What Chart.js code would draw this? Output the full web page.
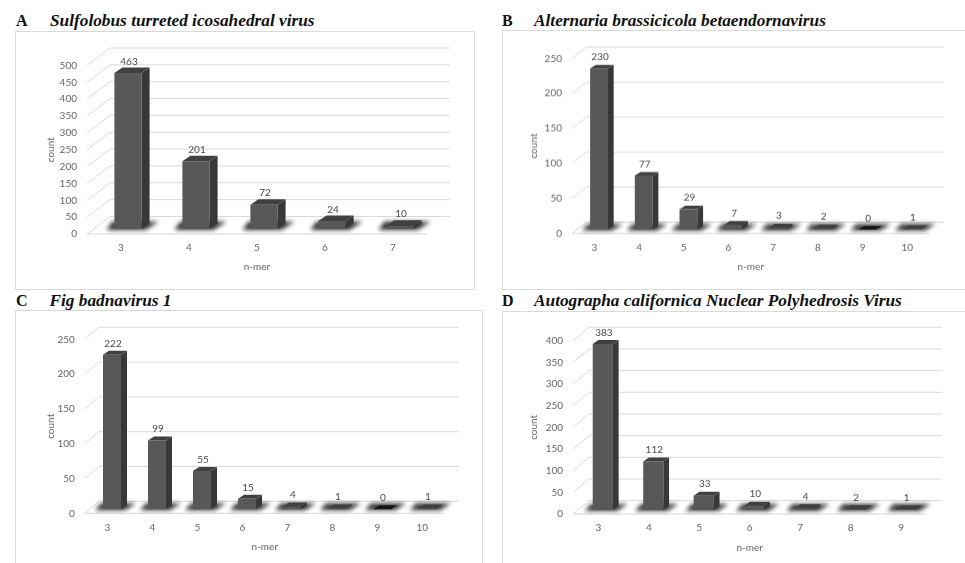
<!DOCTYPE html>
<html>
<head>
<meta charset="utf-8">
<script src="https://cdn.jsdelivr.net/npm/chart.js@4.4.1/dist/chart.umd.min.js"></script>
<style>
  html, body { margin: 0; padding: 0; background: #fff; }
  body { width: 965px; height: 563px; position: relative; overflow: hidden; }
  .box { position: absolute; border: 1px solid #d9d9d9; box-sizing: border-box; }
  canvas { position: absolute; }
  .ttl { position: absolute; font-family: "Liberation Serif", serif; font-size: 17.3px; line-height: 20px; white-space: nowrap; color: #111; }
  .ttl .tag { font-weight: bold; font-style: normal; font-size: 16px; }
  .ttl .name { position: absolute; top: 0; font-weight: bold; font-style: italic; }
</style>
</head>
<body>
<script>
// n-mer length categories and repeat counts for each genome
const nmerA = ['3', '4', '5', '6', '7'];
const countA = [463, 201, 72, 24, 10];

const nmerB = ['3', '4', '5', '6', '7', '8', '9', '10'];
const countB = [230, 77, 29, 7, 3, 2, 0, 1];

const nmerC = ['3', '4', '5', '6', '7', '8', '9', '10'];
const countC = [222, 99, 55, 15, 4, 1, 0, 1];

const nmerD = ['3', '4', '5', '6', '7', '8', '9'];
const countD = [383, 112, 33, 10, 4, 2, 1];

// y axis ranges (ticks every 50)
const yMaxA = 500, yMaxB = 250, yMaxC = 250, yMaxD = 400;
const yStep = 50;

const tags = ['A', 'B', 'C', 'D'];
const names = [
  'Sulfolobus turreted icosahedral virus',
  'Alternaria brassicicola betaendornavirus',
  'Fig badnavirus 1',
  'Autographa californica Nuclear Polyhedrosis Virus'
];

// Page layout: box, plot area (front plane), 3D depth offsets, label anchors
const layout = [
  { box: [15, 31, 460, 259], canvas: [15, 31, 460, 259], area: [87, 65.5, 427, 234],
    depth: [23, -17.5], shift: [7, -5], barDepth: [8, -5.5], countX: 50.7, nmerY: 267,
    tag: [16, 27.3], name: 50 },
  { box: [502, 30, 480, 260], canvas: [502, 30, 463, 259.5], area: [572, 58.3, 929.6, 233.3],
    depth: [14.5, -11.3], shift: [4.7, -4], barDepth: [5.7, -3.6], countX: 534, nmerY: 266.7,
    tag: [502, 27.3], name: 534 },
  { box: [15, 310, 468, 270], canvas: [15, 310, 468, 253], area: [84.8, 339.3, 444.8, 513.3],
    depth: [14, -12], shift: [4.7, -4], barDepth: [6, -4], countX: 50.7, nmerY: 546.7,
    tag: [16, 307], name: 49.5 },
  { box: [502, 311, 480, 270], canvas: [502, 311, 463, 252], area: [573.1, 340.7, 926.3, 514],
    depth: [16, -13.4], shift: [4.5, -4], barDepth: [5.7, -4], countX: 534, nmerY: 547.3,
    tag: [502, 307.3], name: 534 }
];

const panels = [
  { labels: nmerA, values: countA, yMax: yMaxA },
  { labels: nmerB, values: countB, yMax: yMaxB },
  { labels: nmerC, values: countC, yMax: yMaxC },
  { labels: nmerD, values: countD, yMax: yMaxD }
];

const AXIS_W = 50, AXIS_H = 45;
const axisFont = { family: 'Lato', size: 10 };
const titleFont = { family: 'Lato', size: 10 };
const axisColor = '#666666';

// Draws back wall, side wall, floor edge, bar shadows and the extruded bar faces
const bars3d = {
  id: 'bars3d',
  beforeDatasetsDraw(chart, args, opts) {
    const { ctx, chartArea: a, scales: { y } } = chart;
    const [dx, dy] = opts.depth;
    const y0 = y.getPixelForValue(0);
    ctx.save();
    ctx.strokeStyle = '#d9d9d9';
    ctx.lineWidth = 1;
    y.ticks.forEach(t => {
      const py = y.getPixelForValue(t.value);
      ctx.beginPath();
      ctx.moveTo(a.left, py);
      ctx.lineTo(a.left + dx, py + dy);
      ctx.lineTo(a.right + dx, py + dy);
      ctx.stroke();
    });
    ctx.beginPath();
    ctx.moveTo(a.left, y0);
    ctx.lineTo(a.right, y0);
    ctx.stroke();
    ctx.restore();

    const meta = chart.getDatasetMeta(0);
    const [sx, sy] = opts.shift;
    const [bx, by] = opts.barDepth;
    ctx.save();
    ctx.translate(sx, sy);
    ctx.filter = 'blur(2px)';
    ctx.fillStyle = 'rgba(20,20,20,0.85)';
    meta.data.forEach(bar => {
      const { x, width, base } = bar.getProps(['x', 'width', 'base'], true);
      const l = x - width / 2, r = x + width / 2;
      ctx.beginPath();
      ctx.moveTo(l - 8, base + 1);
      ctx.lineTo(r + 4, base + 1);
      ctx.lineTo(r + bx + 9, base + by - 2);
      ctx.lineTo(l - 2, base + by - 2);
      ctx.closePath();
      ctx.fill();
    });
    ctx.restore();

    ctx.save();
    ctx.translate(sx, sy);
  },
  afterDatasetsDraw(chart, args, opts) {
    const { ctx } = chart;
    const [bx, by] = opts.barDepth;
    const meta = chart.getDatasetMeta(0);
    const values = chart.data.datasets[0].data;
    meta.data.forEach((bar, i) => {
      const { x, y, width, base } = bar.getProps(['x', 'y', 'width', 'base'], true);
      const l = x - width / 2, r = x + width / 2;
      ctx.fillStyle = '#383838';
      ctx.beginPath();
      ctx.moveTo(r, y);
      ctx.lineTo(r + bx, y + by);
      ctx.lineTo(r + bx, base + by);
      ctx.lineTo(r, base);
      ctx.closePath();
      ctx.fill();
      ctx.fillStyle = values[i] === 0 ? '#151515' : '#404040';
      ctx.beginPath();
      ctx.moveTo(l, y);
      ctx.lineTo(l + bx, y + by);
      ctx.lineTo(r + bx, y + by);
      ctx.lineTo(r, y);
      ctx.closePath();
      ctx.fill();
    });
    ctx.fillStyle = '#4a4a4a';
    ctx.font = '10px Lato';
    ctx.textAlign = 'center';
    ctx.textBaseline = 'middle';
    meta.data.forEach((bar, i) => {
      const { x, y } = bar.getProps(['x', 'y'], true);
      ctx.fillText(String(values[i]), x + 1, y - 11.5);
    });
    ctx.restore();
  }
};

panels.forEach((p, k) => {
  const L = layout[k];
  const box = document.createElement('div');
  box.className = 'box';
  Object.assign(box.style, { left: L.box[0] + 'px', top: L.box[1] + 'px', width: L.box[2] + 'px', height: L.box[3] + 'px' });
  document.body.appendChild(box);

  const ttl = document.createElement('div');
  ttl.className = 'ttl';
  ttl.style.left = L.tag[0] + 'px';
  ttl.style.top = (L.tag[1] - 15.9) + 'px';
  const tg = document.createElement('span');
  tg.className = 'tag';
  tg.textContent = tags[k];
  const nm = document.createElement('span');
  nm.className = 'name';
  nm.style.left = (L.name - L.tag[0]) + 'px';
  nm.textContent = names[k];
  ttl.appendChild(tg);
  ttl.appendChild(nm);
  document.body.appendChild(ttl);

  const [cx, cy, cw, ch] = L.canvas;
  const cv = document.createElement('canvas');
  cv.width = cw;
  cv.height = ch;
  cv.style.left = cx + 'px';
  cv.style.top = cy + 'px';
  cv.style.width = cw + 'px';
  cv.style.height = ch + 'px';
  document.body.appendChild(cv);

  const [al, at, ar, ab] = L.area;
  const lh = titleFont.size * 1.2;

  new Chart(cv.getContext('2d'), {
    type: 'bar',
    data: {
      labels: p.labels,
      datasets: [{
        data: p.values,
        backgroundColor: '#585858',
        borderWidth: 0,
        barPercentage: 0.4,
        categoryPercentage: 1,
        clip: false
      }]
    },
    options: {
      responsive: false,
      animation: false,
      devicePixelRatio: 1,
      layout: {
        padding: {
          left: al - cx - AXIS_W,
          top: at - cy,
          right: cx + cw - ar,
          bottom: cy + ch - ab - AXIS_H
        }
      },
      plugins: {
        legend: { display: false },
        tooltip: { enabled: false },
        bars3d: { depth: L.depth, shift: L.shift, barDepth: L.barDepth }
      },
      scales: {
        x: {
          grid: { display: false, drawTicks: false },
          border: { display: false },
          ticks: { color: axisColor, font: axisFont, padding: 8 },
          title: {
            display: true, text: 'n-mer', color: axisColor, font: titleFont,
            padding: { top: 0, bottom: ab + AXIS_H - lh / 2 - L.nmerY }
          },
          afterFit(s) { s.height = AXIS_H; }
        },
        y: {
          min: 0,
          max: p.yMax,
          grid: { display: false, drawTicks: false },
          border: { display: false },
          ticks: { stepSize: yStep, color: axisColor, font: axisFont, padding: 10 },
          title: {
            display: true, text: 'count', color: axisColor, font: titleFont,
            padding: { top: L.countX - (al - AXIS_W) - lh / 2, bottom: 0 }
          },
          afterFit(s) { s.width = AXIS_W; }
        }
      }
    },
    plugins: [bars3d]
  });
});
</script>
</body>
</html>
